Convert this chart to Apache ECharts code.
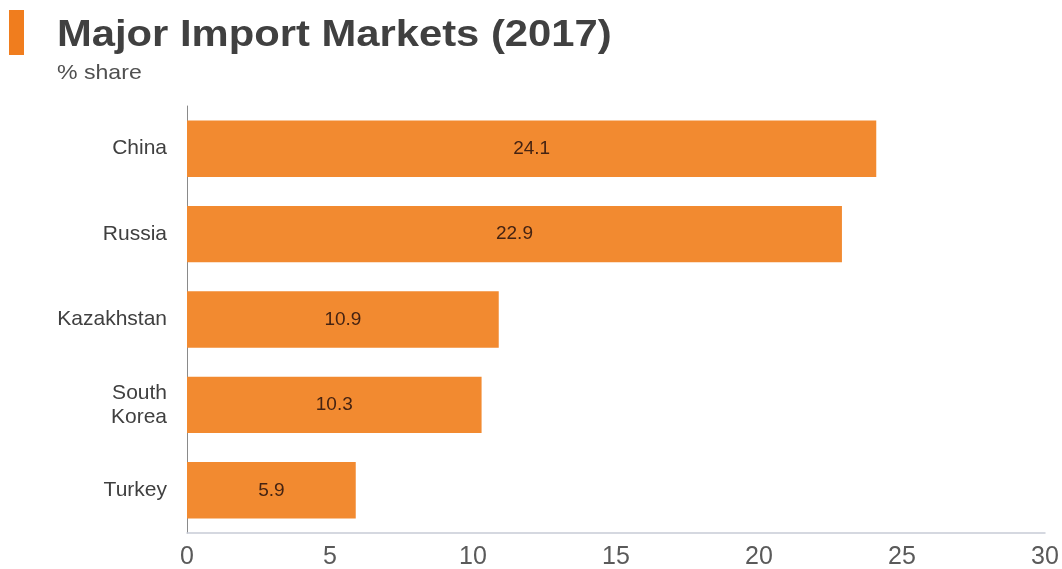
<!DOCTYPE html>
<html>
<head>
<meta charset="utf-8">
<script src="https://cdn.jsdelivr.net/npm/echarts@6/dist/echarts.min.js"></script>
<style>
  html, body { margin: 0; padding: 0; background: #ffffff; }
  #chart { width: 1062px; height: 569px; }
</style>
</head>
<body>
<div id="chart"></div>
<script>
// Import market shares, 2017 (% share)
const categories = ['China', 'Russia', 'Kazakhstan', 'South\nKorea', 'Turkey'];
const shares = [24.1, 22.9, 10.9, 10.3, 5.9];
const xTicks = [0, 5, 10, 15, 20, 25, 30];

const FONT = '"Liberation Sans", Arial, sans-serif';
const chart = echarts.init(document.getElementById('chart'), null, { renderer: 'canvas' });

chart.setOption({
  backgroundColor: '#ffffff',
  animation: false,
  graphic: [
    {
      type: 'rect',
      left: 9, top: 10,
      shape: { width: 15, height: 45 },
      style: { fill: '#F07D1E' }
    },
    {
      type: 'text',
      x: 57, y: 18,
      scaleX: 1.16,
      style: {
        text: 'Major Import Markets (2017)',
        font: 'bold 36px ' + FONT,
        fill: '#404040'
      }
    },
    {
      type: 'text',
      x: 57, y: 63,
      scaleX: 1.1,
      style: {
        text: '% share',
        font: '21px ' + FONT,
        fill: '#505050'
      }
    }
  ],
  grid: {
    left: 187, right: 17, top: 106, bottom: 36,
    containLabel: false,
    outerBoundsMode: 'none'
  },
  xAxis: {
    type: 'value',
    min: xTicks[0],
    max: xTicks[xTicks.length - 1],
    interval: 5,
    axisLine: { show: true, lineStyle: { color: '#c8ccd6', width: 1.5 } },
    axisTick: { show: false },
    splitLine: { show: false },
    axisLabel: {
      margin: 12,
      color: '#5a5a5a',
      fontSize: 25,
      fontFamily: FONT
    }
  },
  yAxis: {
    type: 'category',
    data: categories,
    inverse: true,
    axisLine: { show: true, lineStyle: { color: '#8a8a8a', width: 1 } },
    axisTick: { show: false },
    axisLabel: {
      margin: 20,
      color: '#404040',
      fontSize: 21,
      lineHeight: 24,
      align: 'right',
      fontFamily: FONT
    }
  },
  series: [{
    type: 'bar',
    data: shares,
    barWidth: '66%',
    itemStyle: { color: '#F28A30' },
    label: {
      show: true,
      position: 'inside',
      color: '#452312',
      fontSize: 19,
      fontFamily: FONT,
      formatter: (p) => p.value.toFixed(1)
    }
  }]
});
</script>
</body>
</html>
